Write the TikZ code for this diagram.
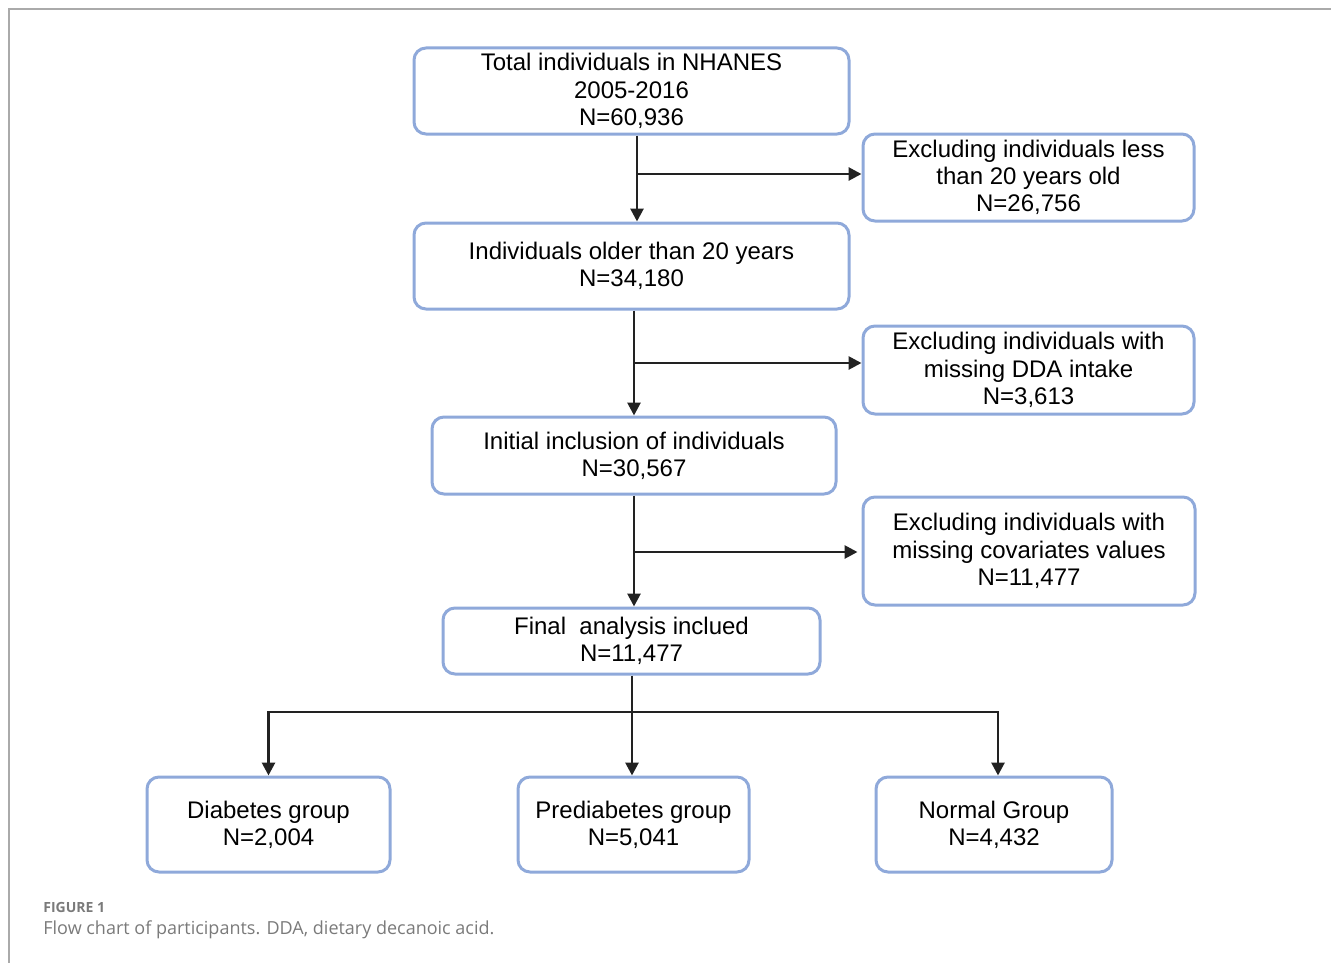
\documentclass[tikz,border=0pt]{standalone}
\usepackage{fontspec}
\setmainfont{Liberation Sans}
\newfontfamily\capfont{Open Sans}
\usetikzlibrary{arrows.meta}
\definecolor{boxblue}{HTML}{8FA9DA}
\definecolor{arrowdark}{HTML}{222222}
\definecolor{framegray}{HTML}{AAAAAA}
\definecolor{capgray}{HTML}{7A7A7A}
\tikzset{
  box/.style={draw=boxblue, line width=1.5pt, rounded corners=6pt, align=center,
    font=\fontsize{12}{13.6}\selectfont, inner sep=0pt},
  arr/.style={draw=arrowdark, line width=1.4pt, -{Triangle[length=6.5pt,width=6.5pt]}},
  ln/.style={draw=arrowdark, line width=1.4pt}
}
\begin{document}
\begin{tikzpicture}[x=0.5pt,y=-0.5pt]
\useasboundingbox (0,0) rectangle (1331,963);
\draw[framegray, line width=0.8pt] (1331,9) -- (9,9) -- (9,963);

\node[box, minimum width=217.5pt, minimum height=43pt] (b1) at (631.5,91) {Total individuals in NHANES\\2005-2016\\N=60,936};
\node[box, minimum width=165.5pt, minimum height=43.5pt] (b2) at (1028.5,177.5) {Excluding individuals less\\than 20 years old\\N=26,756};
\node[box, minimum width=217.5pt, minimum height=43pt] (b3) at (631.5,266) {Individuals older than 20 years\\N=34,180};
\node[box, minimum width=165.5pt, minimum height=44pt] (b4) at (1028.5,370) {Excluding individuals with\\missing DDA intake\\N=3,613};
\node[box, minimum width=202pt, minimum height=38.5pt] (b5) at (634,455.5) {Initial inclusion of individuals\\N=30,567};
\node[box, minimum width=166pt, minimum height=54pt] (b6) at (1029,551) {Excluding individuals with\\missing covariates values\\N=11,477};
\node[box, minimum width=188.5pt, minimum height=33pt] (b7) at (631.5,641) {Final~ analysis inclued\\N=11,477};
\node[box, minimum width=121.5pt, minimum height=47.5pt] (b8) at (268.5,824.5) {Diabetes group\\N=2,004};
\node[box, minimum width=115.5pt, minimum height=47.5pt] (b9) at (633.5,824.5) {Prediabetes group\\N=5,041};
\node[box, minimum width=118pt, minimum height=47.5pt] (b10) at (994,824.5) {Normal Group\\N=4,432};

% connectors
\draw[arr] ([xshift=2.75pt]b1.south) -- ([xshift=2.75pt]b3.north);
\coordinate (j1) at (637,174);
\draw[arr] (j1) -- (j1 -| b2.west);
\draw[arr] ([xshift=1.25pt]b3.south) -- ([xshift=0pt]b5.north);
\coordinate (j2) at (634,363);
\draw[arr] (j2) -- (j2 -| b4.west);
\draw[arr] (b5.south) -- ([xshift=0pt]b7.north -| b5.south);
\coordinate (j3) at (634,552);
\draw[arr] (j3) -- ([xshift=-2pt]j3 -| b6.west);
\draw[arr] ([xshift=0.25pt]b7.south) -- ([xshift=-0.75pt]b9.north);
\coordinate (j4) at (632,712);
\draw[arr] (j4) -| (b8.north);
\draw[arr] (j4) -| ([xshift=2pt]b10.north);

\node[anchor=west, text=capgray, font=\capfont\bfseries\fontsize{7}{8}\selectfont, inner sep=0pt] (cap1) at (43,907) {FIGURE 1};
\node[anchor=west, text=capgray, font=\capfont\fontsize{9}{10}\selectfont, inner sep=0pt] (cap2) at (43,930) {Flow chart of participants. DDA, dietary decanoic acid.};
\end{tikzpicture}
\end{document}
